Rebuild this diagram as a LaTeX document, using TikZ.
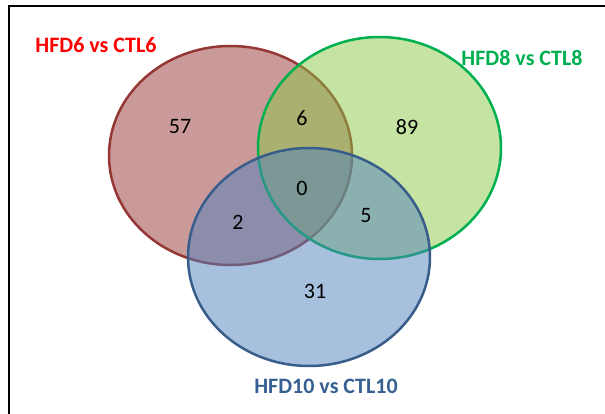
\documentclass[tikz,border=0pt]{standalone}
\usepackage{fontspec}
\setsansfont{Carlito}
\usepackage{xcolor}
\usepackage{tikz}
\definecolor{redline}{HTML}{953735}
\definecolor{redfill}{HTML}{943634}
\definecolor{greenline}{HTML}{00B050}
\definecolor{greenfill}{HTML}{8BC747}
\definecolor{blueline}{HTML}{385D8A}
\definecolor{bluefill}{HTML}{4F81BD}
\definecolor{labelred}{HTML}{FF0000}
\definecolor{labelgreen}{HTML}{00B050}
\definecolor{labelblue}{HTML}{376092}

\begin{document}
\begin{tikzpicture}[
  x=1pt,y=-1pt,
  font=\sffamily\fontsize{22}{26}\selectfont,
  set/.style={line width=2.5pt,fill opacity=0.5},
  setname/.style={font=\sffamily\bfseries\fontsize{22}{26}\selectfont,inner sep=0pt},
  count/.style={inner sep=0pt}
]
\useasboundingbox (0,0) rectangle (605,414);
\clip (0,0) rectangle (605,414);
\draw[line width=2pt] (9,430) |- (620,6);
% the three sets
\draw[set,draw=redline,fill=redfill] (230.5,155.5) ellipse [x radius=121.5,y radius=109.5];
\draw[set,draw=greenline,fill=greenfill] (379.5,148) ellipse [x radius=121.5,y radius=111];
\draw[set,draw=blueline,fill=bluefill] (309,257) ellipse [x radius=121,y radius=109];
\node[setname,text=labelred] (hfd6) at (96,45) {HFD6 vs CTL6};
\node[setname,text=labelgreen] (hfd8) at (522,58) {HFD8 vs CTL8};
\node[setname,text=labelblue] (hfd10) at (326,386) {HFD10 vs CTL10};
\node[count] (only6) at (180,127) {57};
\node[count] (six8) at (302,118) {6};
\node[count] (only8) at (407,127) {89};
\node[count] (all) at (302,188) {0};
\node[count] (six10) at (238,222) {2};
\node[count] (eight10) at (366,216) {5};
\node[count] (only10) at (315,291) {31};
\end{tikzpicture}
\end{document}
